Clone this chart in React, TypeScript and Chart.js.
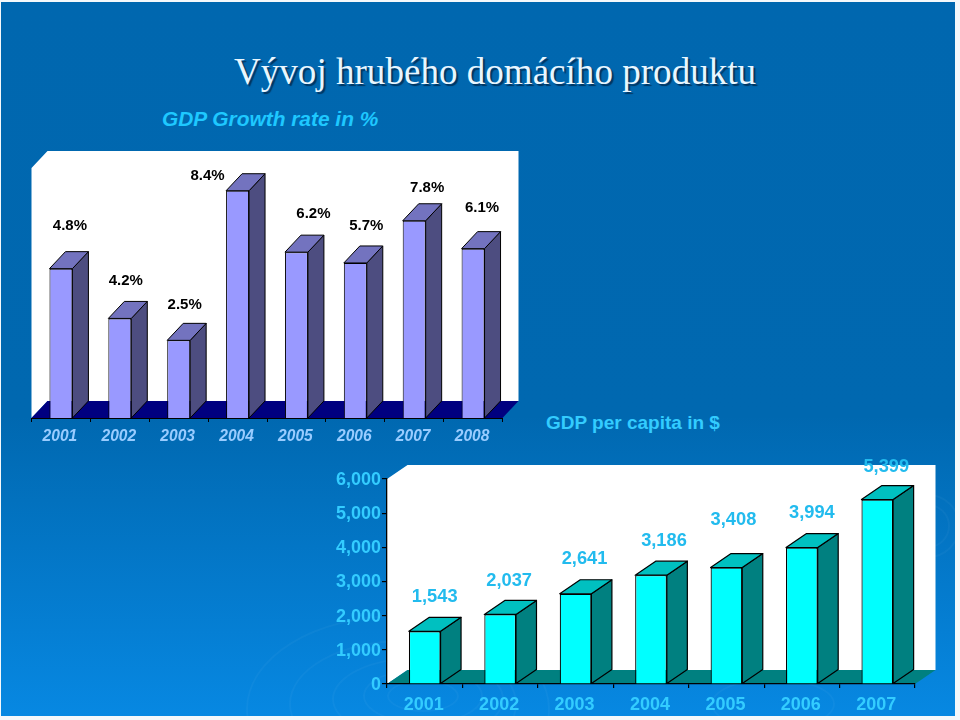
import React, { useEffect, useRef } from "react";
import { Chart, registerables } from "chart.js";

Chart.register(...registerables);

const growthYears = ["2001", "2002", "2003", "2004", "2005", "2006", "2007", "2008"];
// Bar heights as drawn in the picture (they do not follow the printed labels exactly).
const growthBarHeights = [5.52, 3.68, 2.87, 8.4, 6.13, 5.73, 7.29, 6.26];
const growthLabels = ["4.8%", "4.2%", "2.5%", "8.4%", "6.2%", "5.7%", "7.8%", "6.1%"];
const growthLabelShiftX = [9, 6, 6, -30, 17, 11, 13, 9];
const growthLabelShiftY = [-43, -38, -35, -15, -38, -37, -33, -41];

const capitaYears = ["2001", "2002", "2003", "2004", "2005", "2006", "2007"];
const capitaValues = [1543, 2037, 2641, 3186, 3408, 3994, 5399];
const capitaLabelShiftX = [10, 9, 9, 13, 7, 10, 9];
const capitaLabelShiftY = [-34, -33, -35, -34, -48, -35, -33];

const swirlRings = [
  [420, 692, 34, 14], [420, 692, 58, 26], [415, 695, 84, 40], [400, 700, 112, 62], [395, 705, 150, 92],
  [925, 522, 30, 30], [925, 522, 20, 20], [770, 700, 60, 24],
];

const fmt = (v: number) => v.toLocaleString("en-US");

type Box = {
  dx: number; dy: number; floor: string; side: string; top: string; lineWidth: number;
  labels: string[]; shiftX: number[]; shiftY: number[];
  labelColor: string; labelFont: string;
};

function box3d(o: Box) {
  return {
    id: "box3d",
    beforeDraw(chart: any) {
      const { ctx, chartArea: a } = chart;
      ctx.save();
      ctx.fillStyle = "#ffffff";
      ctx.beginPath();
      ctx.moveTo(a.left, a.bottom);
      ctx.lineTo(a.left, a.top);
      ctx.lineTo(a.left + o.dx, a.top - o.dy);
      ctx.lineTo(a.right + o.dx, a.top - o.dy);
      ctx.lineTo(a.right + o.dx, a.bottom - o.dy);
      ctx.lineTo(a.left + o.dx, a.bottom - o.dy);
      ctx.closePath();
      ctx.fill();
      ctx.fillStyle = o.floor;
      ctx.beginPath();
      ctx.moveTo(a.left, a.bottom);
      ctx.lineTo(a.left + o.dx, a.bottom - o.dy);
      ctx.lineTo(a.right + o.dx, a.bottom - o.dy);
      ctx.lineTo(a.right, a.bottom);
      ctx.closePath();
      ctx.fill();
      ctx.restore();
    },
    beforeDatasetsDraw(chart: any) {
      const { ctx } = chart;
      const bars = chart.getDatasetMeta(0).data;
      ctx.save();
      ctx.strokeStyle = "#000000";
      ctx.lineWidth = o.lineWidth;
      ctx.lineJoin = "round";
      bars.forEach((b: any) => {
        const r = b.x + b.width / 2;
        const l = b.x - b.width / 2;
        ctx.fillStyle = o.side;
        ctx.beginPath();
        ctx.moveTo(r, b.y);
        ctx.lineTo(r + o.dx, b.y - o.dy);
        ctx.lineTo(r + o.dx, b.base - o.dy);
        ctx.lineTo(r, b.base);
        ctx.closePath();
        ctx.fill();
        ctx.stroke();
        ctx.fillStyle = o.top;
        ctx.beginPath();
        ctx.moveTo(l, b.y);
        ctx.lineTo(l + o.dx, b.y - o.dy);
        ctx.lineTo(r + o.dx, b.y - o.dy);
        ctx.lineTo(r, b.y);
        ctx.closePath();
        ctx.fill();
        ctx.stroke();
      });
      ctx.restore();
    },
    afterDatasetsDraw(chart: any) {
      const { ctx } = chart;
      const bars = chart.getDatasetMeta(0).data;
      ctx.save();
      ctx.font = o.labelFont;
      ctx.textAlign = "center";
      ctx.textBaseline = "middle";
      ctx.fillStyle = o.labelColor;
      bars.forEach((b: any, i: number) => {
        ctx.fillText(o.labels[i], b.x + o.shiftX[i], b.y + o.shiftY[i]);
      });
      ctx.restore();
    },
  };
}

const arial = '"Liberation Sans", Arial, sans-serif';

const App = () => {
  const growthRef = useRef<HTMLCanvasElement>(null);
  const capitaRef = useRef<HTMLCanvasElement>(null);

  useEffect(() => {
    const growth = new Chart(growthRef.current!, {
      type: "bar",
      data: {
        labels: growthYears,
        datasets: [{
          data: growthBarHeights,
          backgroundColor: "#9999ff",
          borderColor: "#000000",
          borderWidth: 1,
          categoryPercentage: 1,
          barPercentage: 0.39,
        }],
      },
      options: {
        responsive: false,
        animation: false,
        events: [],
        plugins: { legend: { display: false }, tooltip: { enabled: false } },
        layout: { padding: { left: 31.5, right: 27.5, top: 38, bottom: 0 } },
        scales: {
          y: { display: false, min: 0, max: 9.24 },
          x: {
            afterFit: (s: any) => { s.height = 42; },
            border: { color: "#000000" },
            grid: { drawOnChartArea: false, color: "#000000", tickLength: 4 },
            ticks: {
              color: "#99ccff",
              padding: 5,
              labelOffset: -1,
              maxRotation: 0,
              font: { family: arial, size: 15.6, style: "italic", weight: "bold" },
            },
          },
        },
      },
      plugins: [box3d({
        dx: 16, dy: 17, floor: "#000080", side: "#4d4d80", top: "#7373bf", lineWidth: 1,
        labels: growthLabels, shiftX: growthLabelShiftX, shiftY: growthLabelShiftY,
        labelColor: "#000000", labelFont: `bold 15px ${arial}`,
      })],
    } as any);

    const capita = new Chart(capitaRef.current!, {
      type: "bar",
      data: {
        labels: capitaYears,
        datasets: [{
          data: capitaValues,
          backgroundColor: "#00ffff",
          borderColor: "#000000",
          borderWidth: 1.2,
          categoryPercentage: 1,
          barPercentage: 0.42,
        }],
      },
      options: {
        responsive: false,
        animation: false,
        events: [],
        plugins: { legend: { display: false }, tooltip: { enabled: false } },
        layout: { padding: { left: 0, right: 45, top: 39, bottom: 0 } },
        scales: {
          y: {
            min: 0, max: 6000,
            afterFit: (s: any) => { s.width = 67; },
            border: { color: "#000000", width: 1.3 },
            grid: { drawOnChartArea: false, color: "#000000", tickLength: 5, lineWidth: 1.2 },
            ticks: {
              stepSize: 1000,
              color: "#33ccff",
              padding: 1,
              labelOffset: 1,
              callback: (v: any) => fmt(Number(v)),
              font: { family: arial, size: 18, weight: "bold" },
            },
          },
          x: {
            afterFit: (s: any) => { s.height = 36; },
            border: { color: "#000000", width: 1.3 },
            grid: { drawOnChartArea: false, color: "#000000", tickLength: 4, lineWidth: 1.2 },
            ticks: {
              color: "#33ccff",
              padding: 6,
              labelOffset: -1,
              maxRotation: 0,
              font: { family: arial, size: 18, weight: "bold" },
            },
          },
        },
      },
      plugins: [box3d({
        dx: 20.5, dy: 14, floor: "#008080", side: "#008080", top: "#00c0c0", lineWidth: 1.2,
        labels: capitaValues.map(fmt), shiftX: capitaLabelShiftX, shiftY: capitaLabelShiftY,
        labelColor: "#22bbee", labelFont: `bold 18.3px ${arial}`,
      })],
    } as any);

    return () => { growth.destroy(); capita.destroy(); };
  }, []);

  return (
    <div style={{
      position: "fixed", left: 0, top: 0, width: 960, height: 720, overflow: "hidden",
      background: "#f4f8fb",
    }}>
      <div style={{
        position: "absolute", left: 1, top: 2, width: 954, height: 714, overflow: "hidden",
        background: "linear-gradient(180deg, #0067af 0%, #0068b0 58%, #0788e2 100%)",
      }}>
        {swirlRings.map(([cx, cy, rx, ry], i) => (
          <div key={i} style={{
            position: "absolute", left: cx - rx, top: cy - ry, width: 2 * rx, height: 2 * ry,
            borderRadius: "50%", border: "2px solid rgba(255,255,255,0.035)",
          }} />
        ))}
      </div>
      <div style={{
        position: "absolute", left: 234, top: 50, whiteSpace: "nowrap", color: "#e8f6ff",
        font: '37.1px/44px "Liberation Serif", "Times New Roman", serif',
        textShadow: "2px 2px 1px #003560",
      }}>Vývoj hrubého domácího produktu</div>
      <div style={{
        position: "absolute", left: 162, top: 107, whiteSpace: "nowrap", color: "#1ec8ff",
        font: `italic bold 20.9px/24px ${arial}`,
      }}>GDP Growth rate in %</div>
      <div style={{
        position: "absolute", left: 546, top: 412, whiteSpace: "nowrap", color: "#33ccff",
        font: `bold 19px/22px ${arial}`,
      }}>GDP per capita in $</div>
      <canvas ref={growthRef} width={530} height={330}
        style={{ position: "absolute", left: 0, top: 130, width: 530, height: 330 }} />
      <canvas ref={capitaRef} width={640} height={280}
        style={{ position: "absolute", left: 320, top: 440, width: 640, height: 280 }} />
    </div>
  );
};

export default App;
